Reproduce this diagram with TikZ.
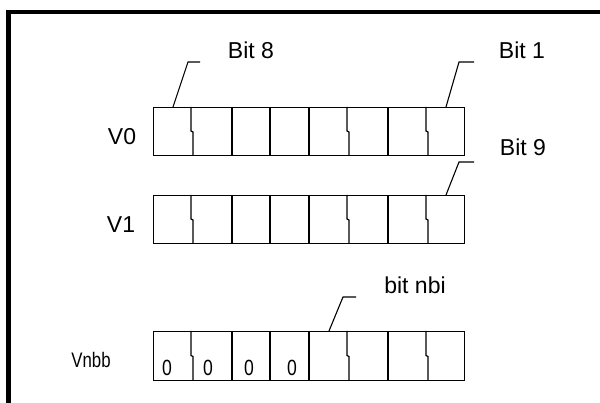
\documentclass[tikz,border=0pt]{standalone}
\usepackage{fontspec}
\setmainfont{Liberation Sans}
\begin{document}
\begin{tikzpicture}[x=1pt,y=-1pt,
  lbl/.style={inner sep=0pt,font=\fontsize{23}{27}\selectfont},
  smalllbl/.style={inner sep=0pt,xscale=0.8,font=\fontsize{21}{24}\selectfont},
  zero/.style={inner sep=0pt,xscale=0.8,font=\fontsize{22}{24}\selectfont},
  cellline/.style={line width=1.2pt,black},
  leader/.style={line width=1.1pt,black}]
\useasboundingbox (0,0) rectangle (600,403);
\fill[white] (0,0) rectangle (600,403);
% frame
\fill[black] (6,10) rectangle (11,403);
\fill[black] (6,10) rectangle (600,14);
% rows
\foreach \nm/\t/\b in {v0/107/155, v1/195/243, vn/331/380}{
  \node[draw,cellline,inner sep=0pt,minimum width=311pt,minimum height={\b-\t},anchor=north west] (\nm) at (153,\t) {};
  \foreach \xx in {232,270,309,388}{
    \draw[cellline] (\xx,\t) -- (\xx,\b);
  }
  \foreach \xx in {193,349,428}{
    \draw[cellline] (\xx-2,\t) -- (\xx-2,{(\t+\b)/2}) -- (\xx,{(\t+\b)/2+1}) -- (\xx,\b);
  }
}
% row labels
\node[lbl] (lv0) at (122,137) {V0};
\node[lbl] (lv1) at (121,225) {V1};
\node[smalllbl] (lvn) at (91,360) {Vnbb};
% zeros
\node[zero] (z1) at (167,368) {0};
\node[zero] (z2) at (208,368) {0};
\node[zero] (z3) at (249,368) {0};
\node[zero] (z4) at (292,368) {0};
% bit labels
\node[lbl] (b8) at (251,50) {Bit 8};
\node[lbl] (b1) at (522,50) {Bit 1};
\node[lbl] (b9) at (523,147) {Bit 9};
\node[lbl] (bn) at (415,285) {bit nbi};
% leaders
\coordinate (p8) at (173,107); \coordinate (k8) at (188,62); \coordinate (e8) at (200,62);
\coordinate (p1) at (446,107); \coordinate (k1) at (459,62); \coordinate (e1) at (474,62);
\coordinate (p9) at (446,195); \coordinate (k9) at (459,162); \coordinate (e9) at (474,162);
\coordinate (pn) at (329,331); \coordinate (kn) at (343,297); \coordinate (en) at (356,297);
\draw[leader] (p8) -- (k8) -- (e8);
\draw[leader] (p1) -- (k1) -- (e1);
\draw[leader] (p9) -- (k9) -- (e9);
\draw[leader] (pn) -- (kn) -- (en);
\end{tikzpicture}
\end{document}
